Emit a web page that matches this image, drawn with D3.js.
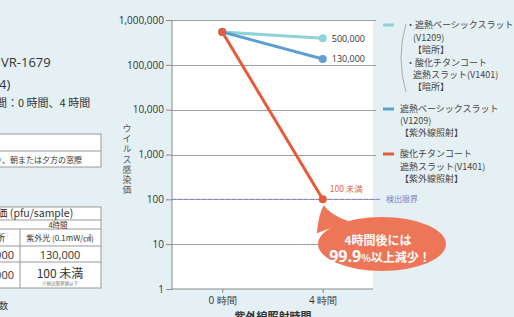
<!DOCTYPE html>
<head>
<meta charset="utf-8">
<title>ウイルス感染価</title>
<style>
body { margin: 0; background: #e4f0f3; }
svg { display: block; font-family: "Open Sans", "Noto Sans CJK JP", sans-serif; }
.jp { font-family: "Noto Sans CJK JP", sans-serif; }
.axis path, .axis line { stroke: #8a8a8a; }
.axis text { font-size: 10px; fill: #333; font-family: "Open Sans", sans-serif; }
.grid line { stroke: #a0a0a0; }
.vtitle { writing-mode: vertical-rl; }
</style>
</head>
<body>
<svg id="chart" width="514" height="317"></svg>
<script src="https://d3js.org/d3.v7.min.js"></script>
<script>

// data
var times = ["0 時間", "4 時間"];
var darkValues = [540000, 390000];      // 暗所 (both slats)
var uvBasicValues = [540000, 135000];   // 遮熱ベーシックスラット 紫外線照射
var uvTitanValues = [540000, 100];      // 酸化チタンコート 紫外線照射
var yTicks = [1, 10, 100, 1000, 10000, 100000, 1000000];
var endLabels = ["500,000", "130,000"];
var detectionLimit = 100;

var colDark = "#8fd2d8", colBasic = "#5d9fd0", colTitan = "#e85a3a";

var svg = d3.select("#chart");

// ---- left (cropped) panel ----
var left = svg.append("g").attr("class", "jp").attr("fill", "#333");
left.append("text").attr("x", 1).attr("y", 67).attr("font-size", 13)
    .attr("font-family", "Open Sans, sans-serif").text("VR-1679");
left.append("text").attr("x", -1).attr("y", 89).attr("font-size", 13)
    .attr("font-family", "Open Sans, sans-serif").text("4)");
left.append("text").attr("x", -4).attr("y", 107).attr("font-size", 11).text("間：0 時間、4 時間");

left.append("rect").attr("x", -5).attr("y", 134).attr("width", 106).attr("height", 33)
    .attr("fill", "#fff").attr("stroke", "#999");
left.append("line").attr("x1", -5).attr("x2", 101).attr("y1", 151).attr("y2", 151).attr("stroke", "#999");
left.append("text").attr("x", -2).attr("y", 163).attr("font-size", 8).text("）、朝または夕方の窓際");

var rows = [207, 220, 229, 246, 262, 288];
left.append("rect").attr("x", -5).attr("y", 207).attr("width", 106).attr("height", 81)
    .attr("fill", "#fff").attr("stroke", "#999");
rows.slice(1, -1).forEach(function(r) {
  left.append("line").attr("x1", -5).attr("x2", 101).attr("y1", r).attr("y2", r).attr("stroke", "#999");
});
left.append("line").attr("x1", 20).attr("x2", 20).attr("y1", 229).attr("y2", 288).attr("stroke", "#999");
left.append("text").attr("x", -3).attr("y", 217).attr("font-size", 10.5).text("価 (pfu/sample)");
left.append("text").attr("x", 58).attr("y", 227.5).attr("font-size", 7.5).attr("text-anchor", "middle").text("4時間");
left.append("text").attr("x", 5).attr("y", 241).attr("font-size", 9).attr("text-anchor", "end").text("暗所");
left.append("text").attr("x", 60).attr("y", 241).attr("font-size", 8).attr("text-anchor", "middle").text("紫外光 (0.1mW/㎠)");
left.append("text").attr("x", 14).attr("y", 259).attr("font-size", 11).attr("text-anchor", "end")
    .attr("font-family", "Open Sans, sans-serif").text("500,000");
left.append("text").attr("x", 60).attr("y", 259).attr("font-size", 11).attr("text-anchor", "middle")
    .attr("font-family", "Open Sans, sans-serif").text("130,000");
left.append("text").attr("x", 14).attr("y", 279).attr("font-size", 11).attr("text-anchor", "end")
    .attr("font-family", "Open Sans, sans-serif").text("500,000");
left.append("text").attr("x", 60).attr("y", 278).attr("font-size", 12).attr("text-anchor", "middle").text("100 未満");
left.append("text").attr("x", 60).attr("y", 285).attr("font-size", 4.5).attr("text-anchor", "middle").attr("fill", "#777").text("※検出限界値以下");
left.append("text").attr("x", -1).attr("y", 309).attr("font-size", 9).text("数");

// ---- chart ----
var plotL = 172, plotR = 373, plotT = 20, plotB = 289;

var x = d3.scalePoint().domain(times).range([plotL, plotR]).padding(0.5);
var y = d3.scaleLog().domain([1, 1000000]).range([plotB, plotT]);

svg.append("rect").attr("x", plotL).attr("y", plotT)
    .attr("width", plotR - plotL).attr("height", plotB - plotT).attr("fill", "#fff");

svg.append("g").attr("class", "grid")
  .selectAll("line").data(yTicks.slice(1)).enter().append("line")
    .attr("x1", plotL).attr("x2", plotR + 3)
    .attr("y1", function(d) { return Math.round(y(d)) + 0.5; })
    .attr("y2", function(d) { return Math.round(y(d)) + 0.5; });

svg.append("g").attr("class", "axis")
    .attr("transform", "translate(" + plotL + ",0)")
    .call(d3.axisLeft(y).tickValues(yTicks).tickFormat(d3.format(",")).tickSize(6).tickPadding(2))
    .call(function(g) { g.select(".domain").attr("d", "M0," + plotT + "V" + plotB); });

var xa = svg.append("g").attr("class", "axis")
    .attr("transform", "translate(0," + plotB + ")")
    .call(d3.axisBottom(x).tickSize(4).tickPadding(4));
xa.select(".domain").attr("d", "M" + plotL + ",0H" + plotR);
xa.selectAll("text").attr("font-family", "Noto Sans CJK JP, sans-serif").attr("font-size", 9);

// axis titles
svg.append("text").attr("class", "jp vtitle").attr("x", 127).attr("y", 124)
    .attr("font-size", 9).attr("letter-spacing", 1.2).attr("fill", "#555")
    .text("ウイルス感染価");
svg.append("text").attr("class", "jp").attr("x", 273).attr("y", 321)
    .attr("text-anchor", "middle").attr("font-size", 11).attr("font-weight", "bold")
    .attr("fill", "#333").text("紫外線照射時間");

// detection limit
svg.append("line").attr("x1", plotL).attr("x2", 382)
    .attr("y1", y(detectionLimit)).attr("y2", y(detectionLimit))
    .attr("stroke", "#8585c8").attr("stroke-dasharray", "4,2").attr("stroke-width", 1);
svg.append("text").attr("class", "jp").attr("x", 386).attr("y", y(detectionLimit) + 3)
    .attr("font-size", 8).attr("fill", "#7f7fbf").text("検出限界");

// lines
var line = d3.line().x(function(d, i) { return x(times[i]); }).y(function(d) { return y(d); });
var series = [
  {vals: darkValues, color: colDark},
  {vals: uvBasicValues, color: colBasic},
  {vals: uvTitanValues, color: colTitan}
];
series.forEach(function(s) {
  svg.append("path").attr("d", line(s.vals)).attr("fill", "none")
      .attr("stroke", s.color).attr("stroke-width", 3);
});
series.forEach(function(s) {
  svg.selectAll(null).data(s.vals).enter().append("circle")
      .attr("cx", function(d, i) { return x(times[i]); })
      .attr("cy", function(d) { return y(d); })
      .attr("r", 4).attr("fill", s.color);
});

// end labels
[darkValues, uvBasicValues].forEach(function(v, i) {
  svg.append("text").attr("x", x(times[1]) + 9).attr("y", y(v[1]) + 3.5)
      .attr("font-size", 9).attr("fill", "#333").text(endLabels[i]);
});
svg.append("text").attr("class", "jp").attr("x", x(times[1]) + 7).attr("y", y(uvTitanValues[1]) - 7)
    .attr("font-size", 8.5).attr("fill", "#e06a45").text("100 未満");

// balloon
var bx = x(times[1]), by = y(uvTitanValues[1]);
var balloon = svg.append("g");
balloon.append("path")
    .attr("d", "M" + (bx - 6) + "," + (by + 34) + " Q" + (bx - 4) + "," + (by + 14) + " " + (bx + 1) + "," + (by + 6)
        + " Q" + (bx + 8) + "," + (by + 16) + " " + (bx + 26) + "," + (by + 22) + " Z")
    .attr("fill", "#ee7658");
balloon.append("ellipse").attr("cx", 382).attr("cy", 244).attr("rx", 64).attr("ry", 27)
    .attr("fill", "#ee7658");
balloon.append("text").attr("class", "jp").attr("x", 378).attr("y", 245)
    .attr("text-anchor", "middle").attr("font-size", 12).attr("font-weight", "bold")
    .attr("fill", "#fff").text("4時間後には");
var t2 = balloon.append("text").attr("class", "jp").attr("x", 380).attr("y", 262)
    .attr("text-anchor", "middle").attr("font-weight", "bold").attr("fill", "#fff");
t2.append("tspan").attr("font-size", 16).attr("font-family", "Open Sans, sans-serif").text("99.9");
t2.append("tspan").attr("font-size", 10).text("%");
t2.append("tspan").attr("font-size", 12).text("以上減少！");

// legend
var lg = svg.append("g").attr("class", "jp").attr("font-size", 9).attr("fill", "#444");
var legendSwatches = [
  {y: 25, color: colDark},
  {y: 109, color: colBasic},
  {y: 154, color: colTitan}
];
lg.selectAll("rect").data(legendSwatches).enter().append("rect")
    .attr("x", 383).attr("y", function(d) { return d.y - 1.5; })
    .attr("width", 11).attr("height", 3).attr("fill", function(d) { return d.color; });
lg.append("path").attr("d", "M406,24 Q396,58 406,92").attr("fill", "none")
    .attr("stroke", "#999").attr("stroke-width", 0.8);
var legendLines = [
  [406, 28, "・遮熱ベーシックスラット"],
  [413, 41, "(V1209)"],
  [413, 53, "【暗所】"],
  [406, 66, "・酸化チタンコート"],
  [413, 78, "遮熱スラット(V1401)"],
  [413, 90, "【暗所】"],
  [400, 112, "遮熱ベーシックスラット"],
  [400, 124, "(V1209)"],
  [400, 136, "【紫外線照射】"],
  [400, 157, "酸化チタンコート"],
  [400, 170, "遮熱スラット(V1401)"],
  [400, 182, "【紫外線照射】"]
];
lg.selectAll("text").data(legendLines).enter().append("text")
    .attr("x", function(d) { return d[0]; }).attr("y", function(d) { return d[1]; })
    .text(function(d) { return d[2]; });

</script>
</body>
